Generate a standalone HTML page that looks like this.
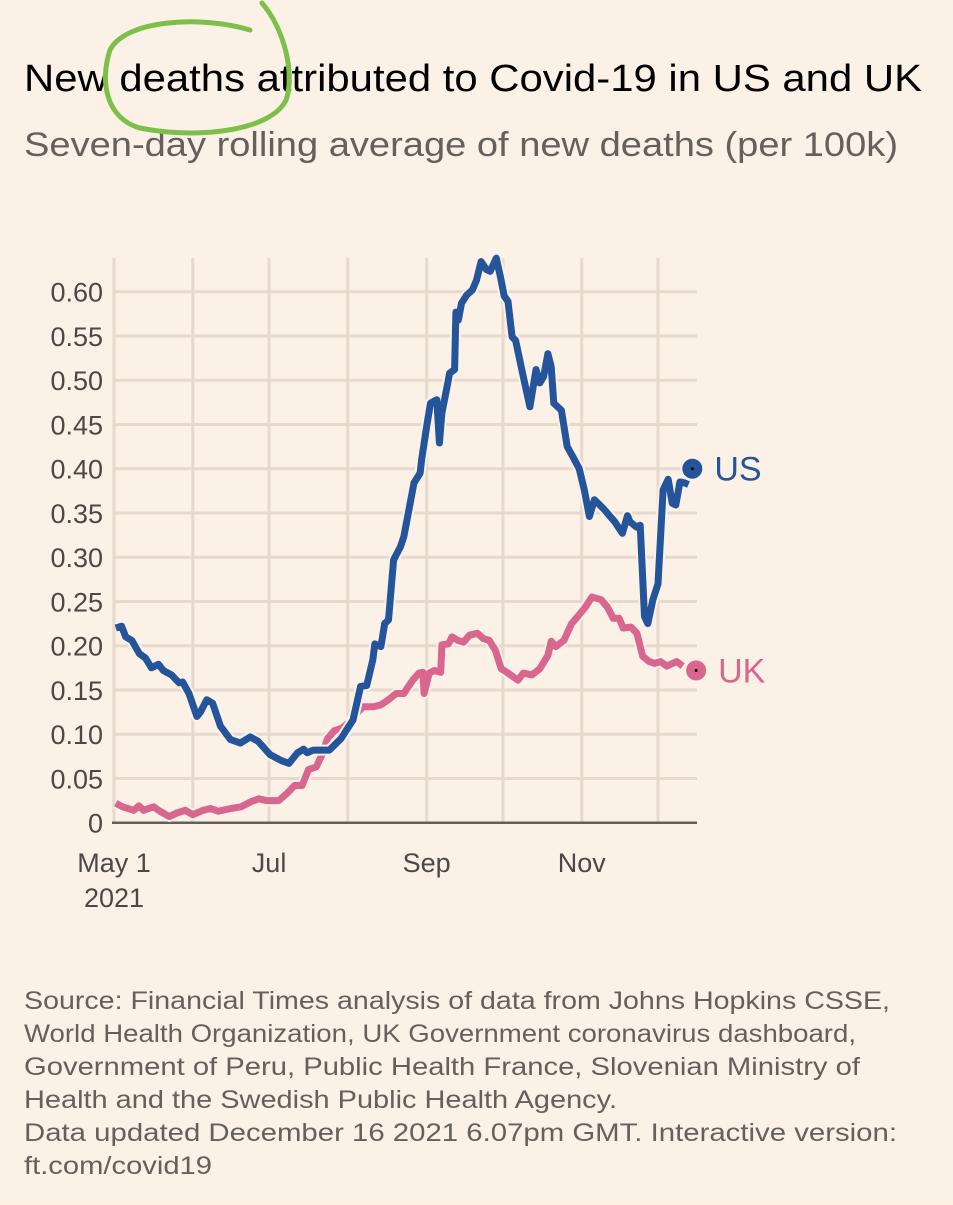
<!DOCTYPE html>
<html><head><meta charset="utf-8"><style>
html,body{margin:0;padding:0;background:#fdf1e6;}
body{width:953px;height:1200px;overflow:hidden;font-family:"Liberation Sans","DejaVu Sans",sans-serif;}
svg text{font-family:"Liberation Sans","DejaVu Sans",sans-serif;}
</style></head><body>
<svg id="chart" width="953" height="1200" viewBox="0 0 953 1200" xmlns="http://www.w3.org/2000/svg">
<rect width="953" height="1200" fill="#fcf1e7"/>
<text x="24" y="91" font-size="38" fill="#000" textLength="898" lengthAdjust="spacingAndGlyphs">New deaths attributed to Covid-19 in US and UK</text>
<text x="24" y="156" font-size="34" fill="#66605c" textLength="874" lengthAdjust="spacingAndGlyphs">Seven-day rolling average of new deaths (per 100k)</text>
<path d="M262,3 C285,30 295,75 286,100 C272,130 200,140 140,128 C105,118 100,80 110,50 C125,20 200,15 250,30" fill="none" stroke="#7cc04a" stroke-width="5" stroke-linecap="round"/>
<g id="grid"></g>
<g id="yticks"></g>
<g id="xticks"></g>
<g id="series"></g>
<g id="source" font-size="25" fill="#66605c" lengthAdjust="spacingAndGlyphs">
<text x="24" y="1009" textLength="866" lengthAdjust="spacingAndGlyphs">Source: Financial Times analysis of data from Johns Hopkins CSSE,</text>
<text x="24" y="1042" textLength="832" lengthAdjust="spacingAndGlyphs">World Health Organization, UK Government coronavirus dashboard,</text>
<text x="24" y="1075" textLength="836" lengthAdjust="spacingAndGlyphs">Government of Peru, Public Health France, Slovenian Ministry of</text>
<text x="24" y="1108" textLength="593" lengthAdjust="spacingAndGlyphs">Health and the Swedish Public Health Agency.</text>
<text x="24" y="1141" textLength="873" lengthAdjust="spacingAndGlyphs">Data updated December 16 2021 6.07pm GMT. Interactive version:</text>
<text x="24" y="1174" textLength="188" lengthAdjust="spacingAndGlyphs">ft.com/covid19</text>
</g>
</svg>
<script>
const yTicks=[0,0.05,0.10,0.15,0.20,0.25,0.30,0.35,0.40,0.45,0.50,0.55,0.60];
const yTickLabels=["0","0.05","0.10","0.15","0.20","0.25","0.30","0.35","0.40","0.45","0.50","0.55","0.60"];
const monthDays=[0,31,61,92,123,153,184,214];
const xLabelDays=[0,61,123,184];
const xLabels=["May 1","Jul","Sep","Nov"];
const usDays=[0.7,3,4.6,7,10,12.4,14.7,17.5,19.4,22.6,25.6,27,29.5,32.6,34,36.5,38.8,41.9,45.8,49.7,53.6,56.7,61.4,66,68.8,72.2,74.6,76,78.4,84.7,89.3,94,97,99.4,101.8,102.6,105,106.5,108,110,112.7,114,118,120.4,121,123,124.5,127,128,129,131.3,132,134,134.5,135.5,136.7,138.7,141,142.6,144.4,146.5,148,150.4,152,153.5,155,156.6,158,161,163.6,166,167.5,169,170.7,172,173,176,178.3,180.6,183,185,187,189,192.5,197,200,202,203,205.6,207,208.7,210,212,214,216,218,219.6,221,222.6,224.5,226];
const usVals=[0.220,0.222,0.21,0.206,0.191,0.186,0.175,0.179,0.172,0.167,0.158,0.159,0.146,0.120,0.125,0.139,0.135,0.109,0.094,0.090,0.097,0.092,0.077,0.070,0.067,0.079,0.083,0.079,0.082,0.082,0.095,0.116,0.154,0.155,0.184,0.202,0.199,0.225,0.229,0.297,0.312,0.323,0.384,0.395,0.410,0.448,0.474,0.478,0.429,0.463,0.497,0.508,0.512,0.577,0.568,0.587,0.596,0.602,0.613,0.634,0.625,0.623,0.638,0.617,0.595,0.589,0.549,0.545,0.504,0.470,0.512,0.497,0.504,0.530,0.515,0.474,0.466,0.425,0.413,0.400,0.376,0.346,0.365,0.355,0.340,0.327,0.347,0.340,0.334,0.336,0.233,0.225,0.252,0.270,0.376,0.388,0.361,0.359,0.385,0.384,0.382];
const usLast=[227.5,0.400];
const ukDays=[0.7,3.4,7.8,9.8,11.6,15.6,18,21.7,24.8,28,31,35,38,41,46,50,54,57,60,64.8,68,71,74,76.5,79.6,82,84,86.7,89.8,92.7,95.5,98,101.8,104.9,108,111,114,117.5,120,121.5,122,124,126,128.5,129,131.6,133,135.3,137.5,139.9,143,145.3,147.6,150,152.3,155,158.9,161,164.4,167.5,170.7,172,173.8,177,180,183,185.5,188,191.6,194,196.4,198.7,200.3,203.4,205.7,208,210.6,212.7,215,217.5,221.3,223.7];
const ukVals=[0.022,0.018,0.014,0.019,0.014,0.018,0.013,0.007,0.011,0.014,0.009,0.014,0.016,0.013,0.016,0.018,0.024,0.027,0.025,0.025,0.033,0.042,0.042,0.060,0.063,0.078,0.095,0.104,0.107,0.114,0.124,0.131,0.131,0.133,0.139,0.146,0.146,0.161,0.169,0.170,0.146,0.169,0.172,0.170,0.201,0.202,0.210,0.206,0.204,0.212,0.214,0.208,0.206,0.195,0.174,0.169,0.161,0.169,0.167,0.174,0.189,0.205,0.199,0.206,0.225,0.235,0.244,0.255,0.252,0.244,0.231,0.231,0.220,0.221,0.214,0.188,0.182,0.180,0.182,0.177,0.182,0.177];
const ukLast=[229,0.172];

const NS="http://www.w3.org/2000/svg";
const X0=114, PXD=(658-114)/214, Y0=822.7, PXV=885, XR=697;
const xs=d=>X0+d*PXD, ys=v=>Y0-v*PXV;
function mk(tag,attrs,parent){const e=document.createElementNS(NS,tag);for(const k in attrs)e.setAttribute(k,attrs[k]);parent.appendChild(e);return e;}
const grid=document.getElementById('grid'),yt=document.getElementById('yticks'),xt=document.getElementById('xticks'),ser=document.getElementById('series');
yTicks.forEach((v,i)=>{
  if(i>0){const l=mk('line',{x1:X0,x2:XR,y1:ys(v),y2:ys(v),stroke:'#e6d9ce','stroke-width':3},grid);
  
  }
  const t=mk('text',{x:103,y:ys(v)+10,'text-anchor':'end','font-size':27,fill:'#4d4845'},yt);
  t.textContent=yTickLabels[i];
  
  
});
monthDays.forEach(d=>{
  const l=mk('line',{x1:xs(d),x2:xs(d),y1:258,y2:Y0,stroke:'#e6d9ce','stroke-width':3},grid);
  
  
});
const base=mk('line',{x1:X0-2,x2:XR,y1:Y0,y2:Y0,stroke:'#66605c','stroke-width':2.5},xt);


xLabelDays.forEach((d,i)=>{
  const t=mk('text',{x:xs(d),y:872,'text-anchor':'middle','font-size':27,fill:'#4d4845'},xt);
  t.textContent=xLabels[i];
  
  
});
const yr=mk('text',{x:xs(0),y:907,'text-anchor':'middle','font-size':27,fill:'#4d4845'},xt);
yr.textContent='2021';


function line(days,vals,last,color,name,label){
  let d=days.map((dd,i)=>(i?'L':'M')+xs(dd).toFixed(1)+','+ys(vals[i]).toFixed(1)).join(' ');
  mk('path',{d:d,fill:'none',stroke:'#fcf1e7','stroke-width':11,'stroke-linejoin':'round'},ser);
  const p=mk('path',{d:d,fill:'none',stroke:color,'stroke-width':7,'stroke-linejoin':'round'},ser);
  
  
  const c=mk('circle',{cx:xs(last[0]),cy:ys(last[1]),r:11,fill:color,stroke:'#fcf1e7','stroke-width':2},ser);
  
  
  mk('circle',{cx:xs(last[0]),cy:ys(last[1]),r:1.5,fill:'#000'},ser);
  const t=mk('text',{x:xs(last[0])+22,y:ys(last[1])+12,'font-size':34,fill:color},ser);
  t.textContent=label;
  
  
}
line(ukDays,ukVals,ukLast,'#d9668f','uk','UK');
line(usDays,usVals,usLast,'#24549a','us','US');
</script>
</body></html>
